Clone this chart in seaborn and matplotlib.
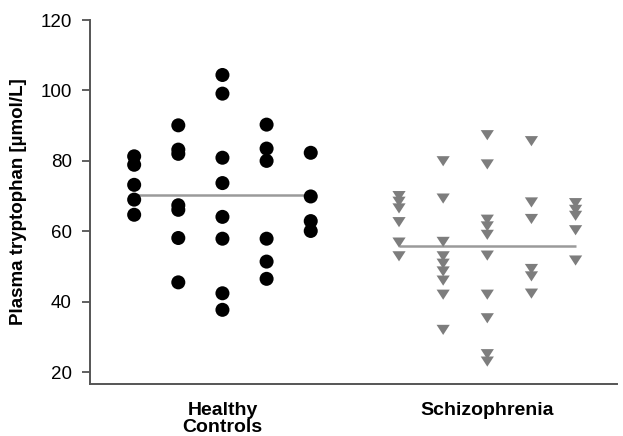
import matplotlib
matplotlib.use("Agg")
import matplotlib.pyplot as plt
import numpy as np
import pandas as pd
import seaborn as sns

groups = ["Healthy\nControls", "Schizophrenia"]

# Plasma tryptophan (µmol/L), one list per column of points, left to right
healthy_cols = [
    [81.3, 78.9, 73.2, 69.0, 64.7],
    [90.1, 83.2, 82.0, 67.4, 66.1, 58.1, 45.5],
    [104.4, 99.1, 80.9, 73.7, 64.1, 57.9, 42.4, 37.7],
    [90.3, 83.5, 80.0, 57.9, 51.4, 46.5],
    [82.3, 69.9, 62.9, 60.1],
]
schizo_cols = [
    [70.0, 68.4, 66.5, 62.6, 56.8, 52.9],
    [79.9, 69.3, 57.0, 52.9, 50.8, 48.6, 46.0, 42.0, 32.0],
    [87.3, 79.0, 63.3, 61.4, 59.0, 53.1, 42.0, 35.3, 25.1, 23.0],
    [85.6, 68.2, 63.5, 49.3, 47.2, 42.3],
    [68.0, 66.1, 64.4, 60.3, 51.7],
]
group_means = [70.4, 55.9]
y_ticks = [20, 40, 60, 80, 100, 120]

rows = []
for gi, cols in enumerate([healthy_cols, schizo_cols]):
    for ci, col in enumerate(cols):
        for v in col:
            rows.append({"group": groups[gi], "gi": gi, "slot": ci, "value": v})
df = pd.DataFrame(rows)
slot_step = 1 / 6
df["x"] = df["gi"] + (df["slot"] - 2) * slot_step

sns.set_style("ticks")
plt.rcParams["font.family"] = ["Liberation Sans", "DejaVu Sans"]
plt.rcParams["text.color"] = "black"
plt.rcParams["axes.labelcolor"] = "black"
plt.rcParams["xtick.color"] = "black"
plt.rcParams["ytick.color"] = "black"

fig = plt.figure(figsize=(6.23, 4.36), dpi=100)
ax = fig.add_axes([0.1445, 0.119, 0.846, 0.835])

# group mean lines
ax.hlines(group_means, [g - 2 * slot_step for g in range(2)],
          [g + 2 * slot_step for g in range(2)],
          color="#9a9a9a", lw=1.8, zorder=1)

# flattened downward triangle
tri = [(-1.0, 0.77), (1.0, 0.77), (0.0, -0.77), (-1.0, 0.77)]

sns.scatterplot(data=df[df["gi"] == 0], x="x", y="value", marker="o",
                color="black", s=102, edgecolor="none", ax=ax, zorder=3,
                legend=False)
sns.scatterplot(data=df[df["gi"] == 1], x="x", y="value", marker=tri,
                color="#7d7d7d", s=90, edgecolor="none", ax=ax, zorder=3,
                legend=False)

ax.set_xlim(-0.5, 1.49)
ax.set_ylim(16.6, 120)
ax.set_yticks(y_ticks)
ax.set_xticks([0, 1])
ax.set_xticklabels(groups, fontsize=14, fontweight="bold", linespacing=0.95)
ax.tick_params(axis="x", length=0, pad=13)
ax.tick_params(axis="y", length=6, width=1.2, pad=7, labelsize=13.5,
               color="#444444")
ax.set_xlabel("")
ax.set_ylabel("Plasma tryptophan [µmol/L]", fontsize=13.5, fontweight="bold",
              labelpad=10)
sns.despine(ax=ax)
for side in ["left", "bottom"]:
    ax.spines[side].set_color("#555555")
    ax.spines[side].set_linewidth(1.4)

fig.savefig("out.png", dpi=100)
